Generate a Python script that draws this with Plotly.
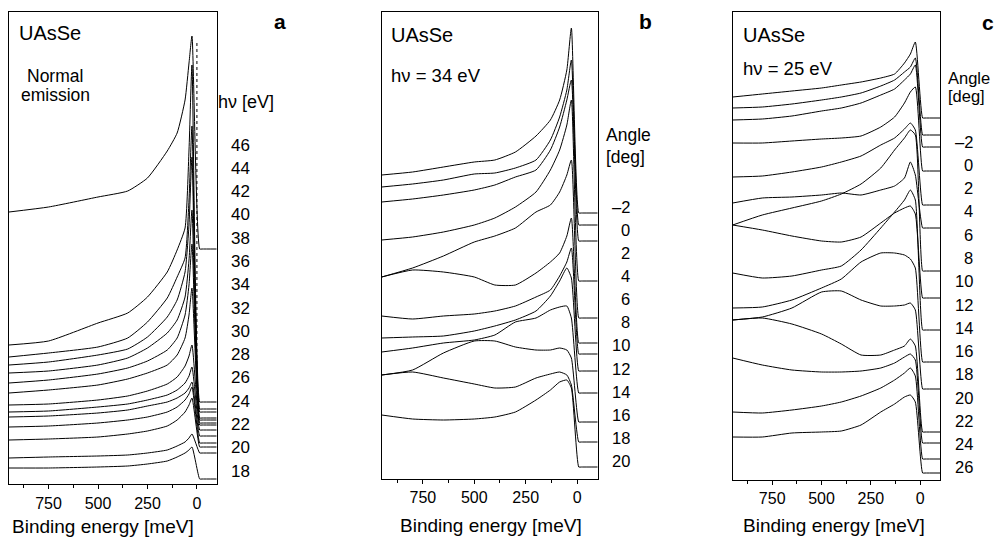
import plotly.graph_objects as go

W, H = 996, 537
FONT = "Liberation Sans, Arial, sans-serif"

# ---------------- data ----------------
# Binding-energy grid (meV) for each panel
E_A = [950, 750, 500, 350, 250, 150, 100, 60, 40, 25, -14, -26, -100]
E_B = [950, 800, 650, 500, 400, 300, 200, 130, 85, 50, 28, -8, -20, -100]
E_C = [950, 800, 650, 500, 400, 300, 200, 130, 80, 50, 25, -12, -24, -100]

# Panel a: normal emission, photon-energy series (offset spectra, read as screen level)
A_SPECTRA = [
    [212, 207, 197, 191, 178, 151, 133, 100, 63, 36, 249, 249, 249],
    [345, 341, 323, 313, 297, 272, 250, 228, 150, 65, 402, 402, 402],
    [357, 353, 347, 338, 322, 298, 277, 258, 200, 126, 409, 409, 409],
    [365, 362, 355, 349, 337, 317, 300, 272, 225, 157, 412, 412, 412],
    [373, 371, 365, 358, 348, 333, 320, 297, 260, 210, 418, 418, 418],
    [383, 380, 374, 368, 361, 350, 338, 315, 285, 244, 420, 420, 420],
    [393, 390, 385, 379, 373, 365, 355, 338, 315, 288, 423, 423, 423],
    [405, 404, 400, 396, 391, 384, 377, 366, 356, 345, 425, 425, 425],
    [412, 411, 407, 404, 400, 395, 390, 383, 376, 367, 430, 430, 430],
    [417, 416, 413, 410, 406, 402, 398, 393, 388, 382, 436, 436, 436],
    [427, 426, 423, 420, 417, 412, 407, 400, 394, 387, 443, 443, 443],
    [440, 439, 437, 434, 431, 426, 420, 412, 405, 398, 447, 447, 447],
    [458, 457, 456, 455, 453, 450, 446, 442, 438, 434, 453, 453, 453],
    [468, 468, 467, 466, 464, 461, 457, 453, 450, 447, 479, 479, 479],
]
HV_LABELS = ["46", "44", "42", "40", "38", "36", "34", "32", "30", "28", "26", "24", "22", "20", "18"]

# Panel b: hv = 34 eV, angle series
B_SPECTRA = [
    [175, 172, 167, 162, 160, 152, 136, 120, 100, 70, 28, 213, 213, 213],
    [187, 184, 180, 174, 173, 168, 160, 140, 117, 90, 60, 225, 225, 225],
    [202, 199, 195, 190, 185, 177, 170, 150, 127, 100, 80, 241, 241, 241],
    [240, 237, 232, 225, 218, 207, 192, 170, 150, 125, 100, 281, 281, 281],
    [277, 268, 256, 242, 236, 228, 212, 205, 192, 175, 160, 318, 318, 318],
    [277, 270, 272, 277, 285, 285, 273, 262, 253, 236, 218, 343, 343, 343],
    [316, 319, 316, 314, 311, 306, 297, 290, 276, 262, 248, 354, 354, 354],
    [338, 337, 336, 331, 326, 320, 311, 296, 281, 268, 278, 371, 371, 371],
    [352, 348, 343, 340, 335, 322, 318, 310, 307, 306, 318, 393, 393, 393],
    [375, 370, 353, 341, 341, 347, 350, 350, 348, 350, 358, 422, 422, 422],
    [375, 372, 378, 384, 388, 387, 378, 374, 372, 375, 385, 442, 442, 442],
    [415, 419, 420, 419, 417, 412, 400, 390, 382, 380, 388, 467, 467, 467],
]
ANGLE_B = ["\u20132", "0", "2", "4", "6", "8", "10", "12", "14", "16", "18", "20"]

# Panel c: hv = 25 eV, angle series
C_SPECTRA = [
    [97, 94, 91, 88, 85, 82, 78, 74, 63, 54, 42, 118, 118, 118],
    [108, 107, 104, 100, 97, 93, 86, 80, 72, 67, 58, 135, 135, 135],
    [120, 119, 116, 111, 108, 103, 95, 89, 80, 74, 65, 147, 147, 147],
    [143, 143, 141, 139, 138, 136, 127, 117, 103, 92, 87, 171, 171, 171],
    [177, 176, 172, 167, 162, 156, 145, 138, 129, 123, 130, 205, 205, 205],
    [203, 198, 197, 195, 193, 195, 190, 186, 178, 162, 175, 228, 228, 228],
    [225, 215, 208, 201, 194, 184, 168, 150, 138, 130, 135, 271, 271, 271],
    [225, 230, 236, 241, 242, 237, 223, 213, 208, 206, 214, 298, 298, 298],
    [273, 278, 276, 270, 266, 250, 228, 212, 200, 190, 200, 330, 330, 330],
    [308, 307, 300, 288, 279, 262, 253, 253, 255, 259, 268, 362, 362, 362],
    [320, 317, 308, 292, 291, 300, 306, 306, 305, 303, 310, 389, 389, 389],
    [320, 318, 324, 334, 344, 355, 355, 350, 346, 339, 346, 432, 432, 432],
    [358, 365, 370, 372, 372, 371, 368, 363, 357, 354, 360, 443, 443, 443],
    [412, 413, 410, 406, 402, 396, 388, 380, 373, 368, 376, 459, 459, 459],
    [437, 437, 433, 432, 431, 425, 412, 404, 397, 395, 402, 473, 473, 473],
]
ANGLE_C = ["\u20132", "0", "2", "4", "6", "8", "10", "12", "14", "16", "18", "20", "22", "24", "26"]

X_TICKS = [0, 250, 500, 750]
X_MINOR = [125, 375, 625, 875]

# ---------------- layout geometry (pixels) ----------------
TOP = 12.3
PANELS = {
    "a": dict(left=9, right=216.7, bottom=484.3),
    "b": dict(left=381.7, right=597.7, bottom=479.0),
    "c": dict(left=732.7, right=940.0, bottom=480.0),
}


def px(x):
    return x / W


def py(y):
    return 1 - y / H


fig = go.Figure()


def add_panel(idx, key, energies, spectra):
    p = PANELS[key]
    xa = "x" if idx == 1 else f"x{idx}"
    ya = "y" if idx == 1 else f"y{idx}"
    for s in spectra:
        fig.add_trace(go.Scatter(
            x=energies, y=[p["bottom"] - v for v in s], xaxis=xa, yaxis=ya,
            mode="lines", line=dict(color="black", width=1, shape="spline", smoothing=0.5),
            hoverinfo="skip", showlegend=False))
    axis_x = dict(
        domain=[px(p["left"]), px(p["right"])], range=[950, -100], anchor=ya,
        tickvals=X_TICKS, ticktext=[str(t) for t in X_TICKS], ticks="outside", ticklen=4,
        tickwidth=1, tickcolor="black", showline=True, linecolor="black", linewidth=1,
        mirror=True, showgrid=False, zeroline=False,
        tickfont=dict(family=FONT, size=16, color="black"),
        minor=dict(tickvals=X_MINOR, ticks="outside", ticklen=3, tickcolor="black", showgrid=False),
    )
    axis_y = dict(
        domain=[py(p["bottom"]), py(TOP)], range=[0, p["bottom"] - TOP], anchor=xa,
        showticklabels=False, ticks="", showline=True, linecolor="black", linewidth=1,
        mirror=True, showgrid=False, zeroline=False,
    )
    fig.update_layout(**{("xaxis" if idx == 1 else f"xaxis{idx}"): axis_x,
                         ("yaxis" if idx == 1 else f"yaxis{idx}"): axis_y})


add_panel(1, "a", E_A, A_SPECTRA)
add_panel(2, "b", E_B, B_SPECTRA)
add_panel(3, "c", E_C, C_SPECTRA)

# dotted Fermi-level marker in panel a
fig.add_trace(go.Scatter(x=[0, 0], y=[PANELS["a"]["bottom"] - 43, PANELS["a"]["bottom"] - 400],
                         mode="lines", line=dict(color="black", width=1, dash="dot"),
                         hoverinfo="skip", showlegend=False))

ann = []


def text(x, y, s, size, xanchor="left", bold=False):
    ann.append(dict(x=px(x), y=py(y), xref="paper", yref="paper", text=f"<b>{s}</b>" if bold else s,
                    showarrow=False, xanchor=xanchor, yanchor="middle",
                    font=dict(family=FONT, size=size, color="black")))


# panel letters
text(280, 21.7, "a", 21, "center", bold=True)
text(645, 21.7, "b", 21, "center", bold=True)
text(988, 22.7, "c", 21, "center", bold=True)

# in-panel labels
text(17, 33, "UAsSe", 20)
text(55, 76.5, "Normal", 17.5, "center")
text(55, 95, "emission", 17.5, "center")
text(389, 35, "UAsSe", 20)
text(389, 75, "h\u03bd = 34 eV", 18.5)
text(741, 35, "UAsSe", 20)
text(741, 68.3, "h\u03bd = 25 eV", 18.5)

# right-hand series labels
text(216, 101.7, "h\u03bd [eV]", 18)
for i, lab in enumerate(HV_LABELS):
    text(252, 145 + i * 23.29, lab, 17, "right")

text(604, 135, "Angle", 17.5)
text(604, 156.7, "[deg]", 17.5)
for i, lab in enumerate(ANGLE_B):
    text(632, 206.7 + i * 23.12, lab, 16.5, "right")

text(946, 78, "Angle", 16.5)
text(946, 96, "[deg]", 16.5)
for i, lab in enumerate(ANGLE_C):
    text(975, 141.7 + i * 23.26, lab, 16.5, "right")

# x-axis titles
text(103.3, 526.7, "Binding energy [meV]", 19, "center")
text(491, 525, "Binding energy [meV]", 19, "center")
text(834, 525, "Binding energy [meV]", 19, "center")

fig.update_layout(
    width=W, height=H, margin=dict(l=0, r=0, t=0, b=0),
    paper_bgcolor="white", plot_bgcolor="white", annotations=ann, showlegend=False,
)

fig.write_html(
    "out.html",
    config={"displayModeBar": False},
    post_script="document.body.style.margin='0';document.body.style.overflow='hidden';",
)
